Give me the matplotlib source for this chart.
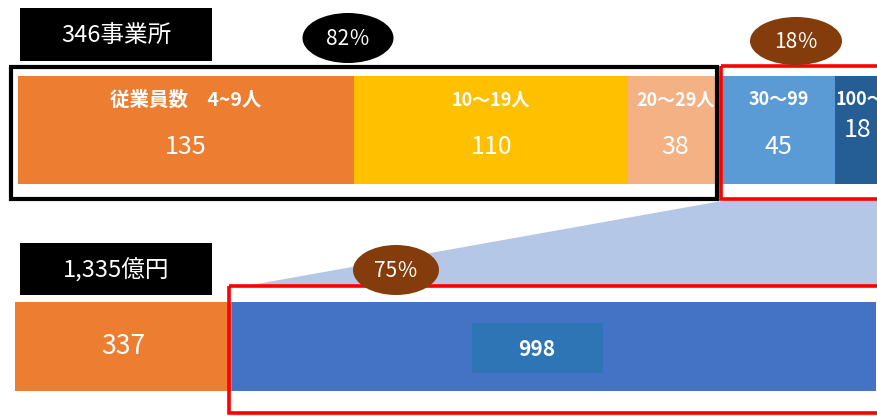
import matplotlib.pyplot as plt
import numpy as np
from matplotlib.patches import Ellipse, Polygon, Rectangle

plt.rcParams["font.family"] = ["Noto Sans CJK JP", "DejaVu Sans"]

# offices by employee size band
size_labels = ["従業員数　4~9人", "10〜19人", "20〜29人", "30〜99", "100〜"]
office_counts = [135, 110, 38, 45, 18]
size_colors = ["#ED7D31", "#FFC000", "#F4B183", "#5B9BD5", "#245E95"]

# sales (億円): small firms vs. 30+ employee firms
sales_values = [337, 998]
sales_colors = ["#ED7D31", "#4472C4"]

W, H = 877, 416
fig = plt.figure(figsize=(W / 100, H / 100), dpi=100)


def px_axes(x0, y0, x1, y1, **kw):
    # axes placed by pixel box (top-left origin)
    return fig.add_axes([x0 / W, 1 - y1 / H, (x1 - x0) / W, (y1 - y0) / H], **kw)


# top bar: office counts
ax_top = px_axes(18, 76, W, 184)
left = np.concatenate([[0], np.cumsum(office_counts)[:-1]])
ax_top.barh(0, office_counts, left=left, height=1.0, color=size_colors)
ax_top.set_xlim(0, (W - 18) / 2.49)
ax_top.set_ylim(-0.5, 0.5)
ax_top.axis("off")

for i, (lab, n) in enumerate(zip(size_labels, office_counts)):
    cx = left[i] + n / 2
    if i == len(office_counts) - 1:
        ax_top.text(left[i] + 0.5, 0.28, lab, ha="left", va="center", color="white",
                    fontsize=13, fontweight="bold")
        ax_top.text(cx, 0.0, f"{n}", ha="center", va="center", color="white", fontsize=18)
        continue
    fs = 14 if i == 0 else 13
    ax_top.text(cx, 0.28, lab, ha="center", va="center", color="white",
                fontsize=fs, fontweight="bold")
    ax_top.text(cx, -0.16, f"{n}", ha="center", va="center", color="white", fontsize=18)

# bottom bar: sales
ax_bot = px_axes(15, 302, W, 391)
sales_left = [0, sales_values[0]]
ax_bot.barh(0, sales_values, left=sales_left, height=1.0, color=sales_colors)
ax_bot.set_xlim(0, (W - 15) / 0.645)
ax_bot.set_ylim(-0.5, 0.5)
ax_bot.axis("off")
ax_bot.text(sales_values[0] / 2, 0.0, f"{sales_values[0]}", ha="center", va="center",
            color="white", fontsize=19)

# overlay for frames, callouts and the zoom wedge
ov = fig.add_axes([0, 0, 1, 1], zorder=3)
ov.set_xlim(0, W)
ov.set_ylim(H, 0)
ov.axis("off")
ov.patch.set_alpha(0)

ov.add_patch(Polygon([(240, 287), (733, 199), (W + 5, 199), (W + 5, 287)],
                     closed=True, facecolor="#B4C7E7", edgecolor="none"))

ov.add_patch(Rectangle((11, 67), 706, 132, fill=False, edgecolor="black", linewidth=3))
ov.add_patch(Rectangle((721, 66), 200, 133, fill=False, edgecolor="#FF0000", linewidth=2.6))
ov.add_patch(Rectangle((229, 286), 700, 127, fill=False, edgecolor="#FF0000", linewidth=2.6))

# darker tile behind the 998 label
ov.add_patch(Rectangle((472, 323), 131, 50, facecolor="#2E75B6", edgecolor="none"))
ov.text(537, 349, f"{sales_values[1]}", ha="center", va="center", color="white",
        fontsize=15, fontweight="bold")

total_offices = sum(office_counts)
total_sales = sum(sales_values)
small_share = sum(office_counts[:3]) / total_offices * 100
large_share = sum(office_counts[3:]) / total_offices * 100
sales_share = sales_values[1] / total_sales * 100

ov.add_patch(Rectangle((20, 8), 192, 53, facecolor="black", edgecolor="none"))
ov.text(116, 35, f"{total_offices}事業所", ha="center", va="center", color="white", fontsize=17)
ov.add_patch(Rectangle((20, 243), 192, 52, facecolor="black", edgecolor="none"))
ov.text(116, 270, f"{total_sales:,}億円", ha="center", va="center", color="white", fontsize=17)

for (cx, cy, w, h, col, val) in [
    (348, 38, 91, 50, "black", small_share),
    (796, 41, 92, 48, "#843C0C", large_share),
    (396, 270, 86, 50, "#843C0C", sales_share),
]:
    ov.add_patch(Ellipse((cx, cy), w, h, facecolor=col, edgecolor="none"))
    ov.text(cx, cy + 1, f"{val:.0f}％", ha="center", va="center", color="white", fontsize=15)

fig.savefig("out.png", dpi=100)
